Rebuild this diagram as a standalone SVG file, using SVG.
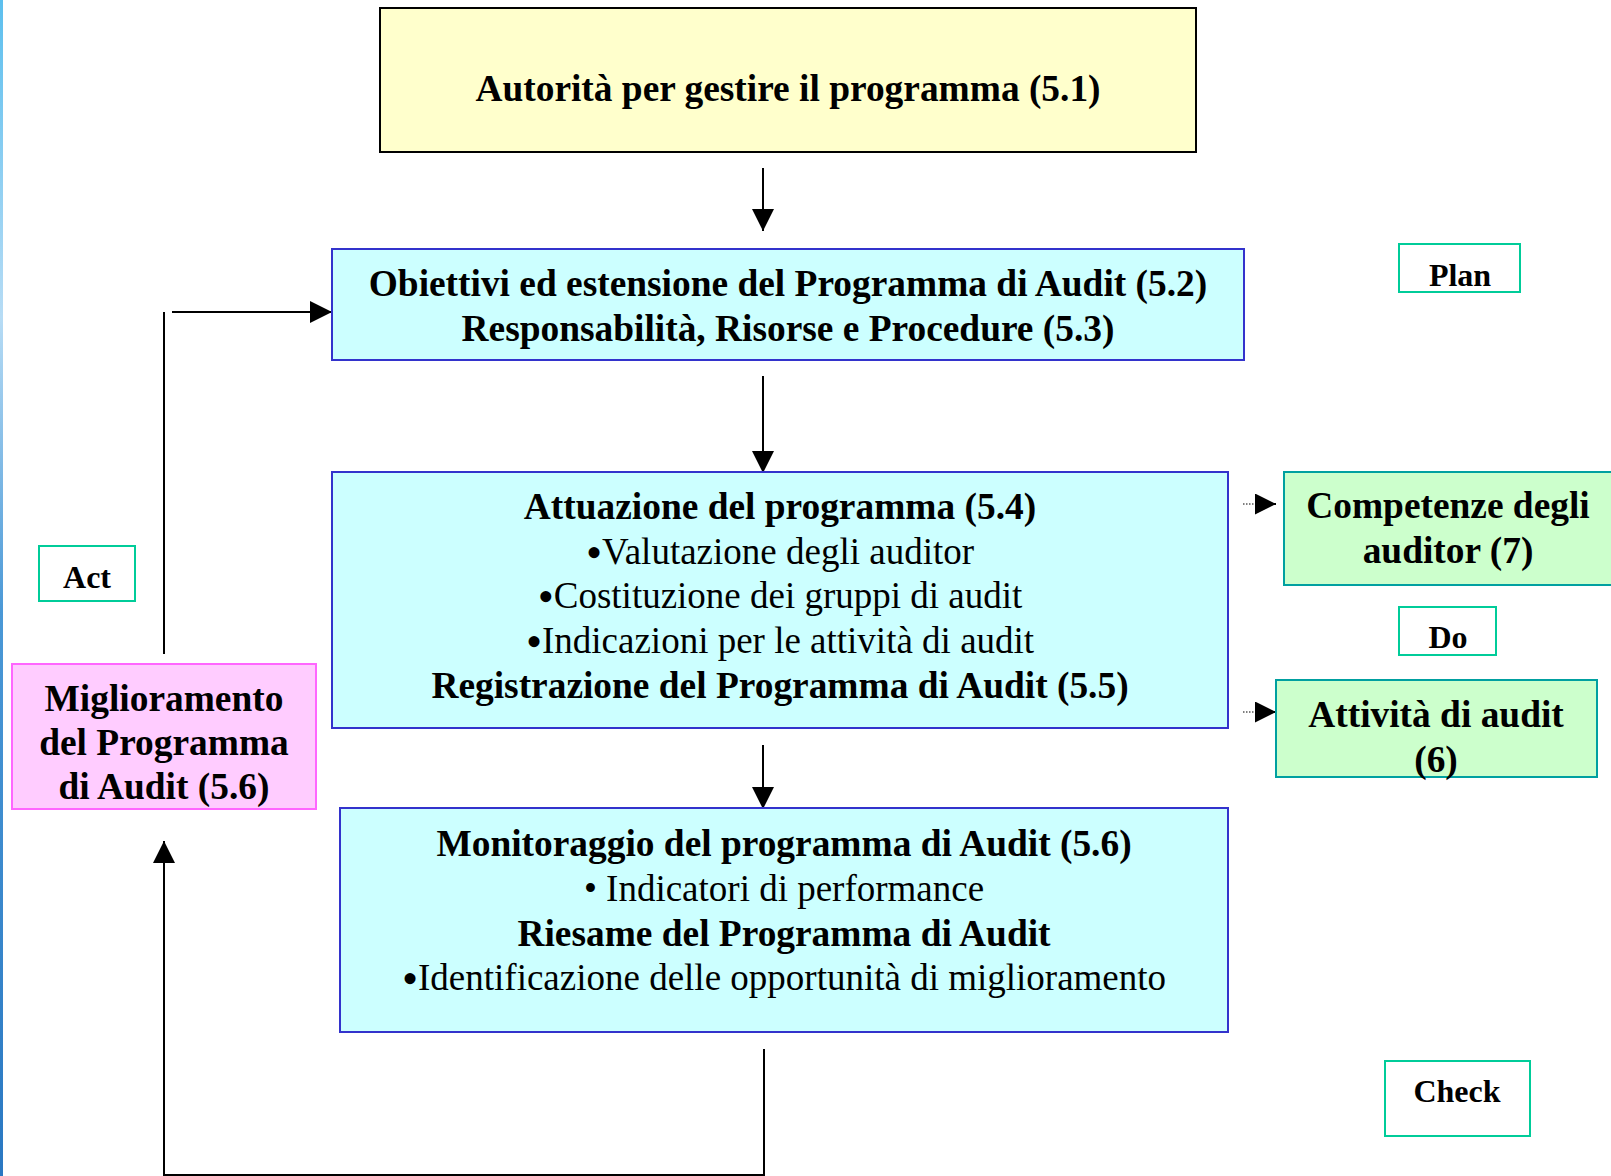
<svg xmlns="http://www.w3.org/2000/svg" width="1611" height="1176" viewBox="0 0 1611 1176">
<defs>
<linearGradient id="edge" x1="0" y1="0" x2="0" y2="1">
<stop offset="0" stop-color="#5cbfee"/>
<stop offset="0.27" stop-color="#b7dcf5"/>
<stop offset="0.52" stop-color="#4a98d6"/>
<stop offset="1" stop-color="#2a78c2"/>
</linearGradient>
<marker id="ah" markerUnits="userSpaceOnUse" markerWidth="22" markerHeight="22" refX="22" refY="11" orient="auto">
<path d="M0,0 L22,11 L0,22 Z" fill="#000"/>
</marker>
<marker id="ahs" markerUnits="userSpaceOnUse" markerWidth="21" markerHeight="21" refX="21" refY="10.5" orient="auto">
<path d="M0,0 L21,10.5 L0,21 Z" fill="#000"/>
</marker>
</defs>
<style>
text{font-family:"Liberation Serif","Times New Roman",serif;text-anchor:middle;fill:#000}
.b{font-weight:bold;font-size:37.4px}
.n{font-size:37px}
.bl{font-size:46px}
.lbl{font-weight:bold;font-size:32px}
.yel{fill:#ffffcc;stroke:#000;stroke-width:2}
.cyan{fill:#ccffff;stroke:#3333cc;stroke-width:2}
.grn{fill:#ccffcc;stroke:#00a0a0;stroke-width:2}
.pink{fill:#ffccff;stroke:#ff66ff;stroke-width:2}
.tag{fill:#fff;stroke:#00cc99;stroke-width:2}
.ln{fill:none;stroke:#000;stroke-width:2}
.dot{fill:none;stroke:#000;stroke-width:1;stroke-dasharray:1.5 1.5}
</style>
<rect x="0" y="0" width="1611" height="1176" fill="#fff"/>
<rect x="0" y="0" width="3" height="1176" fill="url(#edge)"/>

<g id="connectors">
<line class="ln" x1="763" y1="168" x2="763" y2="231" marker-end="url(#ah)"/>
<line class="ln" x1="763" y1="376" x2="763" y2="473" marker-end="url(#ah)"/>
<line class="ln" x1="763" y1="745" x2="763" y2="809" marker-end="url(#ah)"/>
<line class="ln" x1="164" y1="654" x2="164" y2="312"/>
<line class="ln" x1="172" y1="312" x2="332" y2="312" marker-end="url(#ah)"/>
<polyline class="ln" points="764,1049 764,1175 164,1175 164,841" marker-end="url(#ah)"/>
<line class="dot" x1="1243" y1="504" x2="1256" y2="504"/>
<line class="ln" x1="1255" y1="504" x2="1276" y2="504" stroke-width="0" marker-end="url(#ahs)"/>
<line class="dot" x1="1243" y1="712" x2="1256" y2="712"/>
<line class="ln" x1="1255" y1="712" x2="1276" y2="712" stroke-width="0" marker-end="url(#ahs)"/>
</g>

<g id="autorita">
<rect class="yel" x="380" y="8" width="816" height="144"/>
<text class="b" x="788" y="101">Autorità per gestire il programma (5.1)</text>
</g>

<g id="obiettivi">
<rect class="cyan" x="332" y="249" width="912" height="111"/>
<text class="b" x="788" y="296">Obiettivi ed estensione del Programma di Audit (5.2)</text>
<text class="b" x="788" y="341">Responsabilità, Risorse e Procedure (5.3)</text>
</g>

<g id="attuazione">
<rect class="cyan" x="332" y="472" width="896" height="256"/>
<text class="b" x="780" y="519">Attuazione del programma (5.4)</text>
<text class="n" x="780" y="564"><tspan class="bl" dy="4">•</tspan><tspan dy="-4">Valutazione degli auditor</tspan></text>
<text class="n" x="780" y="608"><tspan class="bl" dy="4">•</tspan><tspan dy="-4">Costituzione dei gruppi di audit</tspan></text>
<text class="n" x="780" y="653"><tspan class="bl" dy="4">•</tspan><tspan dy="-4">Indicazioni per le attività di audit</tspan></text>
<text class="b" x="780" y="698">Registrazione del Programma di Audit (5.5)</text>
</g>

<g id="monitoraggio">
<rect class="cyan" x="340" y="808" width="888" height="224"/>
<text class="b" x="784" y="856">Monitoraggio del programma di Audit (5.6)</text>
<text class="n" x="784" y="901">• Indicatori di performance</text>
<text class="b" x="784" y="946">Riesame del Programma di Audit</text>
<text class="n" x="784" y="990"><tspan class="bl" dy="4">•</tspan><tspan dy="-4">Identificazione delle opportunità di miglioramento</tspan></text>
</g>

<g id="miglioramento">
<rect class="pink" x="12" y="664" width="304" height="145"/>
<text class="b" x="164" y="711">Miglioramento</text>
<text class="b" x="164" y="755">del Programma</text>
<text class="b" x="164" y="799">di Audit (5.6)</text>
</g>

<g id="competenze">
<rect class="grn" x="1284" y="472" width="328" height="113"/>
<text class="b" x="1448" y="518">Competenze degli</text>
<text class="b" x="1448" y="563">auditor (7)</text>
</g>

<g id="attivita">
<rect class="grn" x="1276" y="680" width="321" height="97"/>
<text class="b" x="1436" y="727">Attività di audit</text>
<text class="b" x="1436" y="772">(6)</text>
</g>

<g id="plan">
<rect class="tag" x="1399" y="244" width="121" height="48"/>
<text class="lbl" x="1460" y="286">Plan</text>
</g>
<g id="do">
<rect class="tag" x="1399" y="607" width="97" height="48"/>
<text class="lbl" x="1448" y="648">Do</text>
</g>
<g id="act">
<rect class="tag" x="39" y="546" width="96" height="55"/>
<text class="lbl" x="87" y="588">Act</text>
</g>
<g id="check">
<rect class="tag" x="1385" y="1061" width="145" height="75"/>
<text class="lbl" x="1457" y="1102">Check</text>
</g>
</svg>
